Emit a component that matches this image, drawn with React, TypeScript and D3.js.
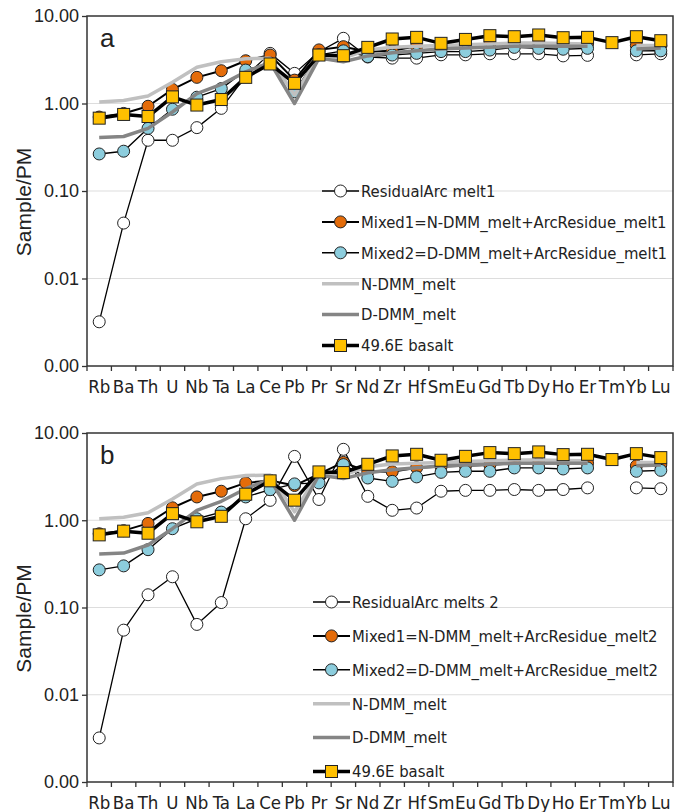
import React, { useEffect, useRef } from 'react';
import * as d3 from 'd3';

// element order on the x axis
const elements = ['Rb', 'Ba', 'Th', 'U', 'Nb', 'Ta', 'La', 'Ce', 'Pb', 'Pr', 'Sr', 'Nd', 'Zr', 'Hf', 'Sm', 'Eu', 'Gd', 'Tb', 'Dy', 'Ho', 'Er', 'Tm', 'Yb', 'Lu'];

type V = number | null;

// panel a series (Sample/PM)
const residualA: V[] = [0.0032, 0.043, 0.38, 0.38, 0.53, 0.88, 2.05, 3.74, 2.21, 3.9, 5.56, 3.4, 3.3, 3.3, 3.6, 3.6, 3.7, 3.7, 3.7, 3.5, 3.55, null, 3.6, 3.7];
const mixed1A: V[] = [0.7, 0.77, 0.93, 1.45, 1.99, 2.37, 3.08, 3.58, 1.85, 4.1, 4.46, 3.9, 4.0, 4.5, 4.55, 4.65, 4.8, 4.9, 4.9, 4.8, 4.8, null, 4.6, 4.6];
const mixed2A: V[] = [0.265, 0.285, 0.52, 0.86, 1.18, 1.48, 2.41, 2.9, 1.36, 3.6, 4.0, 3.43, 3.58, 3.74, 3.92, 3.92, 4.08, 4.38, 4.27, 4.17, 4.27, null, 4.0, 4.0];

// panel b series
const residualB: V[] = [0.0032, 0.055, 0.14, 0.225, 0.064, 0.114, 1.04, 1.69, 5.39, 1.73, 6.5, 1.88, 1.3, 1.38, 2.15, 2.2, 2.2, 2.25, 2.2, 2.25, 2.35, null, 2.35, 2.3];
const mixed1B: V[] = [0.7, 0.76, 0.92, 1.39, 1.85, 2.15, 2.68, 2.85, 2.5, 3.4, 4.6, 3.6, 3.6, 4.0, 4.1, 4.2, 4.3, 4.5, 4.5, 4.4, 4.5, null, 4.2, 4.3];
const mixed2B: V[] = [0.27, 0.3, 0.46, 0.8, 1.04, 1.24, 1.85, 2.24, 2.61, 2.68, 4.34, 3.05, 2.79, 3.14, 3.54, 3.64, 3.64, 3.98, 3.98, 3.87, 3.98, null, 3.64, 3.73];

// shared model melts and the sample
const nDmm: V[] = [1.04, 1.08, 1.22, 1.75, 2.6, 3.0, 3.25, 3.3, 1.25, 3.5, 3.3, 4.1, 4.4, 4.5, 4.6, 4.7, 4.8, 4.9, 4.9, 4.85, 4.8, null, 4.6, 4.6];
const dDmm: V[] = [0.41, 0.42, 0.52, 0.8, 1.3, 1.65, 2.3, 2.95, 1.0, 3.3, 3.0, 3.5, 3.8, 4.0, 4.2, 4.3, 4.4, 4.5, 4.5, 4.5, 4.5, null, 4.2, 4.3];
const basalt: V[] = [0.68, 0.75, 0.71, 1.19, 0.96, 1.11, 1.99, 2.83, 1.7, 3.58, 3.52, 4.38, 5.46, 5.7, 4.87, 5.4, 5.96, 5.8, 6.07, 5.65, 5.7, 4.96, 5.8, 5.22];

const yTicks = [10, 1, 0.1, 0.01, 0.001];

const legendA = ['ResidualArc melt1', 'Mixed1=N-DMM_melt+ArcResidue_melt1', 'Mixed2=D-DMM_melt+ArcResidue_melt1', 'N-DMM_melt', 'D-DMM_melt', '49.6E basalt'];
const legendB = ['ResidualArc melts 2', 'Mixed1=N-DMM_melt+ArcResidue_melt2', 'Mixed2=D-DMM_melt+ArcResidue_melt2', 'N-DMM_melt', 'D-DMM_melt', '49.6E basalt'];

const FONT = "'Liberation Sans', Arial, sans-serif";
const NARROW = "'DejaVu Sans Condensed', sans-serif";

interface Style { line: string; width: number; marker: 'circle' | 'square' | null; fill?: string }
const styles: Style[] = [
  { line: '#000', width: 1.3, marker: 'circle', fill: '#fff' },
  { line: '#000', width: 2, marker: 'circle', fill: '#E46C0A' },
  { line: '#000', width: 1.4, marker: 'circle', fill: '#8CCDDD' },
  { line: '#C0C0C0', width: 3.5, marker: null },
  { line: '#858585', width: 3.5, marker: null },
  { line: '#000', width: 3.5, marker: 'square', fill: '#FFC000' },
];

interface PanelCfg {
  top: number; bottom: number; letter: string; series: V[][]; legend: string[];
  legX: number; legY: number; legStep: number;
}

function drawMarker(g: d3.Selection<SVGGElement, unknown, null, undefined>, st: Style, cx: number, cy: number) {
  if (st.marker === 'circle') {
    g.append('circle').attr('cx', cx).attr('cy', cy).attr('r', 6)
      .attr('fill', st.fill!).attr('stroke', '#222').attr('stroke-width', 1);
  } else if (st.marker === 'square') {
    g.append('rect').attr('x', cx - 6).attr('y', cy - 6).attr('width', 12).attr('height', 12)
      .attr('fill', st.fill!).attr('stroke', '#222').attr('stroke-width', 1);
  }
}

function drawPanel(root: d3.Selection<SVGGElement, unknown, null, undefined>, cfg: PanelCfg) {
  const x = d3.scaleBand().domain(elements).range([87, 673]);
  const y = d3.scaleLog().domain([0.001, 10]).range([cfg.bottom, cfg.top]);
  const g = root.append('g');

  // grid
  g.selectAll('line.grid').data([1, 0.1, 0.01]).enter().append('line')
    .attr('x1', 87).attr('x2', 673).attr('y1', d => y(d)).attr('y2', d => y(d))
    .attr('stroke', '#DDDDDD').attr('stroke-width', 1.2);

  // frame
  g.append('rect').attr('x', 87).attr('y', cfg.top).attr('width', 586).attr('height', cfg.bottom - cfg.top)
    .attr('fill', 'none').attr('stroke', '#333').attr('stroke-width', 1.5);

  // y axis
  const ya = g.append('g').attr('transform', 'translate(87,0)')
    .call(d3.axisLeft(y).tickValues(yTicks).tickFormat(d3.format('.2f')).tickSize(5).tickPadding(3));
  ya.select('.domain').remove();
  ya.selectAll('line').attr('stroke', '#333').attr('stroke-width', 1.3);
  ya.selectAll('text').attr('font-family', FONT).attr('font-size', 18).attr('fill', '#222');

  // x ticks at band edges
  const edges = elements.map(e => x(e)!).concat([673]);
  g.selectAll('line.xt').data(edges).enter().append('line')
    .attr('x1', d => d).attr('x2', d => d).attr('y1', cfg.bottom).attr('y2', cfg.bottom + 5)
    .attr('stroke', '#333').attr('stroke-width', 1.3);
  g.selectAll('text.xl').data(elements).enter().append('text')
    .attr('x', d => x(d)! + x.bandwidth() / 2).attr('y', cfg.bottom + 27)
    .attr('text-anchor', 'middle').attr('font-family', NARROW).attr('font-size', 18.5).attr('fill', '#222')
    .text(d => d);

  // y title
  g.append('text').attr('transform', `translate(31,${(cfg.top + cfg.bottom) / 2 + 11}) rotate(-90)`)
    .attr('text-anchor', 'middle').attr('font-family', FONT).attr('font-size', 21).attr('fill', '#222')
    .text('Sample/PM');

  // panel letter
  g.append('text').attr('x', 100).attr('y', cfg.top + 31).attr('font-family', FONT).attr('font-size', 26)
    .attr('fill', '#222').text(cfg.letter);

  // series
  const line = d3.line<V>()
    .defined(d => d != null)
    .x((_, i) => x(elements[i])! + x.bandwidth() / 2)
    .y(d => y(d as number));

  cfg.series.forEach((data, si) => {
    const st = styles[si];
    const sg = g.append('g');
    sg.append('path').attr('d', line(data)).attr('fill', 'none')
      .attr('stroke', st.line).attr('stroke-width', st.width).attr('stroke-linejoin', 'round');
    data.forEach((v, i) => {
      if (v == null) return;
      drawMarker(sg, st, x(elements[i])! + x.bandwidth() / 2, y(v));
    });
  });

  // legend
  cfg.legend.forEach((label, i) => {
    const st = styles[i];
    const ly = cfg.legY + i * cfg.legStep;
    const lg = g.append('g');
    lg.append('line').attr('x1', cfg.legX).attr('x2', cfg.legX + 37).attr('y1', ly).attr('y2', ly)
      .attr('stroke', st.line).attr('stroke-width', st.width);
    drawMarker(lg, st, cfg.legX + 18.5, ly);
    lg.append('text').attr('x', cfg.legX + 39).attr('y', ly + 5.8).attr('font-family', NARROW)
      .attr('font-size', 16.5).attr('fill', '#222').text(label);
  });
}

export default function App() {
  const ref = useRef<SVGSVGElement>(null);

  useEffect(() => {
    if (!ref.current) return;
    const svg = d3.select(ref.current);
    svg.selectAll('*').remove();
    const root = svg.append('g') as d3.Selection<SVGGElement, unknown, null, undefined>;
    drawPanel(root, {
      top: 16, bottom: 366, letter: 'a',
      series: [residualA, mixed1A, mixed2A, nDmm, dDmm, basalt],
      legend: legendA, legX: 322, legY: 191, legStep: 30.9,
    });
    drawPanel(root, {
      top: 433, bottom: 782, letter: 'b',
      series: [residualB, mixed1B, mixed2B, nDmm, dDmm, basalt],
      legend: legendB, legX: 313, legY: 602, legStep: 33.9,
    });
  }, []);

  return (
    <svg ref={ref} width={683} height={812}
      style={{ position: 'absolute', left: 0, top: 0, background: '#fff', display: 'block' }} />
  );
}
